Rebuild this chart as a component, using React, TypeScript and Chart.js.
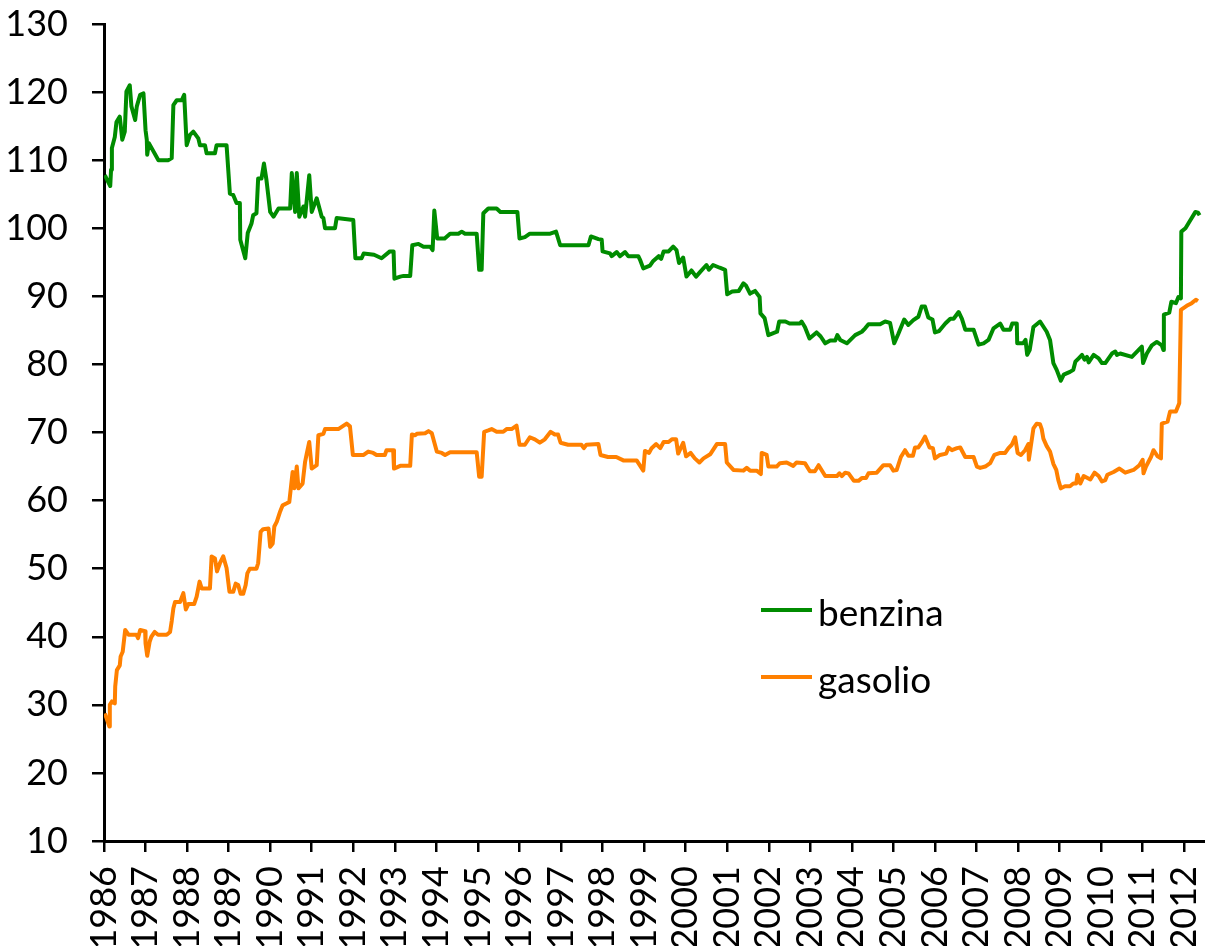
import React, { useEffect, useRef } from "react";
import { Chart, registerables } from "chart.js";

Chart.register(...registerables);

// Y axis tick values
const yTicks = [10, 20, 30, 40, 50, 60, 70, 80, 90, 100, 110, 120, 130];
// X axis year ticks
const yearTicks = [1986, 1987, 1988, 1989, 1990, 1991, 1992, 1993, 1994, 1995, 1996, 1997, 1998, 1999, 2000, 2001, 2002, 2003, 2004, 2005, 2006, 2007, 2008, 2009, 2010, 2011, 2012];

const seriesLabels = ["benzina", "gasolio"];

// benzina: time (decimal year) and value
const benzinaT = [
  1986.02, 1986.15, 1986.17, 1986.19, 1986.26, 1986.3, 1986.38, 1986.44, 1986.5, 1986.54, 1986.62, 1986.66, 1986.75, 1986.79, 1986.87, 1986.95,
  1987.0, 1987.03, 1987.04, 1987.08, 1987.31, 1987.55, 1987.63, 1987.67, 1987.75, 1987.87, 1987.93, 1987.99,
  1988.07, 1988.15, 1988.27, 1988.31, 1988.43, 1988.47, 1988.67, 1988.71, 1988.95,
  1989.03, 1989.11, 1989.19, 1989.27, 1989.28, 1989.4, 1989.46, 1989.55, 1989.59, 1989.67, 1989.71, 1989.79, 1989.85, 1989.91,
  1990.0, 1990.08, 1990.2, 1990.48, 1990.52, 1990.6, 1990.64, 1990.7, 1990.8, 1990.84, 1990.94,
  1991.0, 1991.12, 1991.24, 1991.28, 1991.32, 1991.56, 1991.6,
  1992.0, 1992.05, 1992.2, 1992.25, 1992.5, 1992.68, 1992.88, 1992.97, 1992.99,
  1993.13, 1993.21, 1993.37, 1993.42, 1993.57, 1993.69, 1993.85, 1993.91, 1993.95,
  1994.02, 1994.2, 1994.33, 1994.53, 1994.61, 1994.69, 1994.97,
  1995.03, 1995.09, 1995.13, 1995.25, 1995.45, 1995.54, 1995.95,
  1996.0, 1996.13, 1996.25, 1996.74, 1996.88, 1996.98,
  1997.66, 1997.72, 1997.9, 1997.98,
  1998.0, 1998.18, 1998.22, 1998.34, 1998.42, 1998.54, 1998.62, 1998.86, 1998.9, 1998.98,
  1999.14, 1999.22, 1999.35, 1999.41, 1999.47, 1999.59, 1999.7, 1999.78, 1999.84, 1999.94,
  2000.02, 2000.14, 2000.25, 2000.35, 2000.5, 2000.56, 2000.66, 2000.82, 2000.95,
  2001.0, 2001.12, 2001.28, 2001.39, 2001.45, 2001.55, 2001.67, 2001.78, 2001.8, 2001.9, 2001.99,
  2002.11, 2002.2, 2002.25, 2002.4, 2002.5, 2002.75, 2002.79, 2002.87, 2002.98,
  2003.15, 2003.25, 2003.36, 2003.48, 2003.6, 2003.65, 2003.72, 2003.88,
  2004.08, 2004.24, 2004.32, 2004.4, 2004.68, 2004.8, 2004.92,
  2005.02, 2005.12, 2005.26, 2005.36, 2005.48, 2005.6, 2005.68, 2005.76, 2005.84, 2005.94,
  2006.0, 2006.1, 2006.25, 2006.37, 2006.45, 2006.57, 2006.65, 2006.73, 2006.93,
  2007.05, 2007.17, 2007.29, 2007.41, 2007.57, 2007.65, 2007.81, 2007.86, 2007.97, 2007.98,
  2008.12, 2008.18, 2008.22, 2008.28, 2008.37, 2008.53, 2008.69, 2008.77, 2008.85, 2008.93,
  2009.03, 2009.1, 2009.25, 2009.33, 2009.38, 2009.46, 2009.54, 2009.6, 2009.66, 2009.7, 2009.82, 2009.94,
  2010.02, 2010.1, 2010.26, 2010.34, 2010.38, 2010.46, 2010.74, 2010.98,
  2011.01, 2011.1, 2011.22, 2011.34, 2011.46, 2011.5, 2011.51, 2011.64, 2011.69, 2011.8, 2011.86, 2011.92, 2011.93,
  2012.03, 2012.15, 2012.27, 2012.33, 2012.37,
];
const benzinaV = [
  107.8, 106.2, 108.6, 111.8, 113.4, 115.6, 116.4, 113.0, 114.2, 120.1, 121.0, 117.9, 115.9, 117.9, 119.6, 119.8,
  114.4, 113.0, 110.8, 112.5, 110.0, 110.0, 110.3, 118.1, 118.8, 118.8, 119.6, 112.2,
  113.7, 114.2, 113.2, 112.2, 112.2, 111.0, 111.0, 112.2, 112.2,
  105.1, 104.9, 103.7, 103.7, 98.3, 95.6, 99.3, 100.7, 101.9, 102.2, 107.3, 107.3, 109.5, 107.1,
  102.4, 101.7, 102.9, 102.9, 108.1, 102.4, 108.1, 101.7, 103.2, 101.7, 107.8,
  102.4, 104.4, 101.7, 101.5, 100.0, 100.0, 101.5,
  101.2, 95.6, 95.6, 96.3, 96.1, 95.6, 96.6, 96.6, 92.6,
  92.9, 93.0, 93.0, 97.5, 97.7, 97.3, 97.3, 96.8, 102.6,
  98.5, 98.5, 99.2, 99.2, 99.5, 99.2, 99.2,
  93.9, 93.9, 102.2, 102.9, 102.9, 102.4, 102.4,
  98.5, 98.7, 99.2, 99.2, 99.5, 97.5,
  97.5, 98.8, 98.4, 98.3,
  96.6, 96.3, 95.9, 96.5, 95.9, 96.5, 95.9, 95.9, 95.4, 94.1,
  94.5, 95.2, 95.9, 95.5, 96.6, 96.6, 97.3, 96.8, 94.9, 95.7,
  92.9, 93.8, 92.9, 93.6, 94.6, 93.9, 94.6, 94.2, 93.9,
  90.3, 90.7, 90.8, 91.9, 91.6, 90.4, 90.8, 89.9, 87.5, 86.8, 84.3,
  84.6, 84.8, 86.3, 86.3, 86.0, 86.0, 86.3, 85.5, 83.8,
  84.7, 84.1, 83.1, 83.5, 83.5, 84.3, 83.6, 83.1,
  84.3, 84.8, 85.3, 85.9, 85.9, 86.3, 86.1,
  83.1, 84.5, 86.6, 85.8, 86.5, 87.0, 88.5, 88.5, 86.9, 86.6,
  84.7, 84.9, 86.0, 86.7, 86.7, 87.7, 86.7, 85.1, 85.1,
  82.9, 83.1, 83.6, 85.3, 86.0, 85.1, 85.1, 86.0, 86.0, 83.1,
  83.1, 83.6, 81.4, 82.1, 85.5, 86.3, 84.8, 83.6, 80.2, 79.2,
  77.6, 78.5, 78.9, 79.2, 80.4, 80.9, 81.4, 80.7, 81.1, 80.3, 81.4, 80.9,
  80.2, 80.2, 81.6, 81.9, 81.4, 81.6, 81.1, 82.6,
  80.2, 81.6, 82.8, 83.3, 82.8, 82.1, 87.3, 87.6, 89.2, 89.0, 89.9, 89.7, 99.5,
  100.0, 101.2, 102.4, 102.3, 101.9,
];

// gasolio: time (decimal year) and value
const gasolioT = [
  1986.02, 1986.13, 1986.14, 1986.19, 1986.26, 1986.27, 1986.31, 1986.38, 1986.4, 1986.45, 1986.51, 1986.59, 1986.78, 1986.82, 1986.87, 1986.99,
  1987.0, 1987.04, 1987.1, 1987.14, 1987.22, 1987.3, 1987.51, 1987.59, 1987.63, 1987.67, 1987.71, 1987.83, 1987.91, 1987.97,
  1988.03, 1988.17, 1988.23, 1988.3, 1988.35, 1988.55, 1988.59, 1988.67, 1988.72, 1988.79, 1988.87, 1988.95,
  1989.02, 1989.11, 1989.17, 1989.23, 1989.29, 1989.35, 1989.41, 1989.45, 1989.51, 1989.67, 1989.71, 1989.77, 1989.83, 1989.96,
  1990.0, 1990.06, 1990.1, 1990.16, 1990.24, 1990.3, 1990.4, 1990.46, 1990.5, 1990.54, 1990.58, 1990.64, 1990.68, 1990.78, 1990.84, 1990.88, 1990.94,
  1991.0, 1991.12, 1991.16, 1991.28, 1991.32, 1991.64, 1991.84, 1991.92, 1991.99,
  1992.25, 1992.36, 1992.48, 1992.56, 1992.76, 1992.8, 1992.96, 1992.98,
  1993.13, 1993.37, 1993.41, 1993.49, 1993.53, 1993.73, 1993.81, 1993.89,
  1994.01, 1994.13, 1994.21, 1994.33, 1994.97,
  1995.03, 1995.09, 1995.15, 1995.25, 1995.33, 1995.45, 1995.61, 1995.69, 1995.81, 1995.93,
  1996.0, 1996.13, 1996.25, 1996.37, 1996.49, 1996.61, 1996.75, 1996.85, 1996.93, 1996.99,
  1997.17, 1997.49, 1997.55, 1997.61, 1997.9, 1997.95,
  1998.13, 1998.33, 1998.5, 1998.82, 1998.98,
  1999.02, 1999.12, 1999.18, 1999.29, 1999.39, 1999.47, 1999.59, 1999.67, 1999.77, 1999.82, 1999.94,
  2000.01, 2000.12, 2000.22, 2000.33, 2000.43, 2000.59, 2000.75, 2000.95, 2000.99,
  2001.15, 2001.39, 2001.47, 2001.55, 2001.71, 2001.81, 2001.83, 2001.95, 2001.99,
  2002.19, 2002.27, 2002.43, 2002.59, 2002.67, 2002.87, 2002.99,
  2003.11, 2003.2, 2003.36, 2003.64, 2003.7, 2003.76, 2003.84, 2003.92,
  2004.05, 2004.16, 2004.24, 2004.34, 2004.4, 2004.6, 2004.76, 2004.92,
  2005.0, 2005.08, 2005.18, 2005.28, 2005.36, 2005.47, 2005.52, 2005.6, 2005.68, 2005.76, 2005.87, 2005.95,
  2006.0, 2006.12, 2006.27, 2006.33, 2006.41, 2006.53, 2006.61, 2006.73, 2006.93,
  2007.01, 2007.09, 2007.21, 2007.33, 2007.43, 2007.57, 2007.69, 2007.77, 2007.85, 2007.93, 2007.99,
  2008.07, 2008.17, 2008.25, 2008.26, 2008.37, 2008.45, 2008.53, 2008.57, 2008.61, 2008.69, 2008.77, 2008.85, 2008.92, 2008.97,
  2009.03, 2009.13, 2009.25, 2009.33, 2009.4, 2009.43, 2009.5, 2009.58, 2009.74, 2009.84, 2009.94,
  2010.02, 2010.1, 2010.15, 2010.3, 2010.44, 2010.58, 2010.78, 2010.92,
  2011.0, 2011.02, 2011.08, 2011.2, 2011.26, 2011.36, 2011.44, 2011.46, 2011.6, 2011.66, 2011.8, 2011.88, 2011.92,
  2012.06, 2012.18, 2012.28, 2012.33,
];
const gasolioV = [
  28.75, 26.8, 30.0, 30.5, 30.2, 32.7, 35.1, 35.8, 37.1, 37.8, 41.0, 40.3, 40.3, 39.8, 41.0, 40.8,
  39.0, 37.2, 39.3, 40.0, 40.7, 40.3, 40.3, 40.7, 42.3, 44.2, 45.1, 45.1, 46.4, 44.0,
  44.8, 44.8, 45.9, 48.1, 47.1, 47.1, 51.8, 51.5, 49.6, 50.8, 51.8, 50.1,
  46.6, 46.6, 47.8, 47.6, 46.3, 46.3, 47.6, 49.3, 50.0, 50.0, 50.8, 55.4, 55.8, 55.9,
  53.2, 53.7, 56.2, 56.9, 58.4, 59.3, 59.6, 59.8, 62.0, 64.2, 61.8, 65.0, 61.8, 62.5, 65.7, 66.9, 68.6,
  64.7, 65.2, 69.6, 69.8, 70.5, 70.5, 71.3, 70.9, 66.7,
  66.7, 67.2, 67.0, 66.7, 66.7, 67.4, 67.4, 64.7,
  65.1, 65.1, 69.7, 69.6, 69.8, 69.9, 70.2, 69.9,
  67.2, 67.0, 66.7, 67.1, 67.1,
  63.5, 63.5, 70.1, 70.3, 70.5, 70.1, 70.1, 70.5, 70.5, 71.0,
  68.2, 68.2, 69.3, 69.0, 68.5, 69.0, 70.1, 69.7, 69.7, 68.5,
  68.2, 68.2, 67.7, 68.2, 68.3, 66.7,
  66.4, 66.4, 65.9, 65.9, 64.4,
  67.3, 67.0, 67.7, 68.3, 67.7, 68.6, 68.6, 69.0, 69.0, 66.9, 68.5,
  66.5, 67.0, 66.2, 65.6, 66.2, 66.8, 68.3, 68.3, 65.6,
  64.5, 64.4, 64.8, 64.4, 64.4, 63.9, 67.0, 66.7, 65.0,
  65.0, 65.5, 65.6, 65.1, 65.6, 65.5, 64.3,
  64.3, 65.2, 63.6, 63.6, 64.0, 63.6, 64.1, 64.0,
  62.9, 62.9, 63.3, 63.3, 64.0, 64.1, 65.2, 65.2,
  64.4, 64.5, 66.4, 67.4, 66.6, 66.6, 67.8, 67.8, 68.5, 69.4, 67.8, 67.7,
  66.2, 66.7, 66.9, 67.8, 67.4, 67.7, 67.8, 66.4, 66.4,
  65.0, 64.8, 65.0, 65.5, 66.7, 67.0, 67.0, 67.7, 68.2, 69.3, 67.0,
  66.7, 67.4, 68.3, 66.0, 70.6, 71.3, 71.2, 70.5, 69.1, 68.0, 67.2, 65.4, 64.5, 63.0,
  61.8, 62.1, 62.1, 62.5, 62.5, 63.8, 62.5, 63.6, 63.1, 64.1, 63.6,
  62.8, 63.0, 63.8, 64.2, 64.7, 64.1, 64.5, 65.2,
  66.0, 64.0, 65.0, 66.4, 67.4, 66.5, 66.2, 71.3, 71.6, 73.1, 73.1, 74.3, 88.0,
  88.6, 89.0, 89.5, 89.3,
];

const seriesColors = ["#008C00", "#FF8000"];

const FONT = "Lato, 'DejaVu Sans', sans-serif";

const inlineLegend = {
  id: "inlineLegend",
  afterDatasetsDraw(chart: any, _args: any, opts: any) {
    const ctx = chart.ctx;
    ctx.save();
    chart.data.datasets.forEach((ds: any, i: number) => {
      const y = opts.y + i * opts.gap;
      ctx.strokeStyle = ds.borderColor;
      ctx.lineWidth = opts.lineWidth;
      ctx.lineCap = "butt";
      ctx.beginPath();
      ctx.moveTo(opts.x, y);
      ctx.lineTo(opts.x + opts.len, y);
      ctx.stroke();
      ctx.fillStyle = "#000";
      ctx.font = `${opts.fontSize}px ${FONT}`;
      ctx.textBaseline = "alphabetic";
      ctx.textAlign = "left";
      ctx.fillText(ds.label, opts.x + opts.len + opts.textGap, y + opts.baselineOffset);
    });
    ctx.restore();
  },
};

export default function App() {
  const ref = useRef<HTMLCanvasElement | null>(null);
  useEffect(() => {
    if (!ref.current) return;
    const chart = new Chart(ref.current, {
      type: "line",
      data: {
        datasets: [
          {
            label: seriesLabels[0],
            data: benzinaT.map((t, i) => ({ x: t, y: benzinaV[i] })),
            borderColor: seriesColors[0],
            borderWidth: 4,
            pointRadius: 0,
            tension: 0,
            borderJoinStyle: "round",
          },
          {
            label: seriesLabels[1],
            data: gasolioT.map((t, i) => ({ x: t, y: gasolioV[i] })),
            borderColor: seriesColors[1],
            borderWidth: 4,
            pointRadius: 0,
            tension: 0,
            borderJoinStyle: "round",
          },
        ],
      },
      options: {
        animation: false,
        responsive: false,
        devicePixelRatio: 1,
        layout: { padding: { top: 24, right: 0, left: 0, bottom: 0 } },
        plugins: {
          legend: { display: false },
          tooltip: { enabled: false },
          inlineLegend: { x: 761, y: 610, gap: 67, len: 51, lineWidth: 4, textGap: 6, fontSize: 37, baselineOffset: 16 },
        } as any,
        scales: {
          x: {
            type: "linear",
            min: yearTicks[0],
            max: 2012.5,
            afterBuildTicks: (scale: any) => {
              scale.ticks = yearTicks.map((v) => ({ value: v }));
            },
            afterFit: (scale: any) => {
              scale.height = 105;
              scale.paddingLeft = 0;
              scale.paddingRight = 0;
            },
            ticks: {
              autoSkip: false,
              minRotation: 90,
              maxRotation: 90,
              includeBounds: false,
              padding: 14,
              color: "#000",
              font: { family: FONT, size: 36 },
              callback: (v: any) => String(v),
            },
            grid: { drawOnChartArea: false, drawTicks: true, tickLength: 11, color: "#000", lineWidth: 2.5 },
            border: { display: true, color: "#000", width: 3 },
          },
          y: {
            min: yTicks[0],
            max: yTicks[yTicks.length - 1],
            afterBuildTicks: (scale: any) => {
              scale.ticks = yTicks.map((v) => ({ value: v }));
            },
            afterFit: (scale: any) => {
              scale.width = 104;
              scale.paddingTop = 0;
              scale.paddingBottom = 0;
            },
            ticks: {
              padding: 24,
              color: "#000",
              font: { family: FONT, size: 36 },
            },
            grid: { drawOnChartArea: false, drawTicks: true, tickLength: 12, color: "#000", lineWidth: 2.5 },
            border: { display: true, color: "#000", width: 3 },
          },
        },
      },
      plugins: [inlineLegend],
    });
    return () => chart.destroy();
  }, []);
  return (
    <div style={{ position: "absolute", left: 0, top: 0, width: 1205, height: 946, background: "#fff" }}>
      <canvas ref={ref} width={1205} height={946} style={{ display: "block" }} />
    </div>
  );
}
